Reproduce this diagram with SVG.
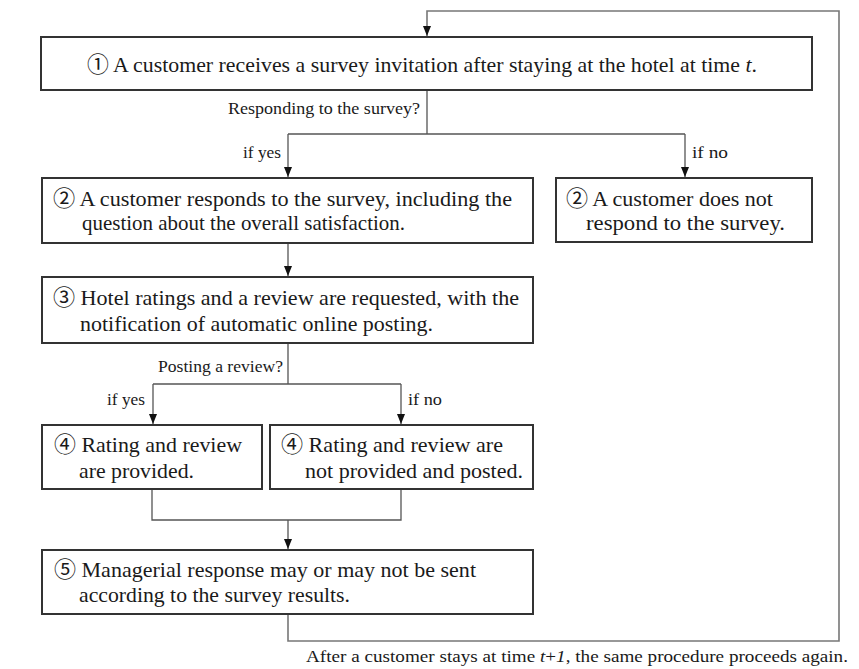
<svg xmlns="http://www.w3.org/2000/svg" width="859" height="669" viewBox="0 0 859 669">
<style>
.box{fill:#fff;stroke:#333;stroke-width:2}
.t{font-family:"Liberation Serif","Noto Sans CJK JP",serif;font-size:22px;fill:#1a1a1a}
.l{font-family:"Liberation Serif","Noto Sans CJK JP",serif;font-size:17px;fill:#1a1a1a}
.c{fill:none;stroke:#555;stroke-width:1.3}
.loop{fill:none;stroke:#777;stroke-width:1.6}
</style>
<defs>
<marker id="ah" markerUnits="userSpaceOnUse" markerWidth="10" markerHeight="10" refX="10" refY="4" orient="auto">
<path d="M0,0 L10,4 L0,8 z" fill="#111"/>
</marker>
</defs>
<rect width="859" height="669" fill="#fff"/>
<g id="connectors">
<path class="c" d="M427,90 V134 M288,134 H685"/>
<path class="c" d="M288,134 V177" marker-end="url(#ah)"/>
<path class="c" d="M685,134 V177" marker-end="url(#ah)"/>
<path class="c" d="M288,243 V276" marker-end="url(#ah)"/>
<path class="c" d="M288,343 V384 M153,384 H401"/>
<path class="c" d="M153,384 V424" marker-end="url(#ah)"/>
<path class="c" d="M401,384 V424" marker-end="url(#ah)"/>
<path class="c" d="M152,489 V520 H401 V489"/>
<path class="c" d="M288,520 V549" marker-end="url(#ah)"/>
<path class="loop" d="M288,614 V641 H839 V11 H427 V36" marker-end="url(#ah)"/>
<text class="l" x="228" y="114" textLength="192" lengthAdjust="spacingAndGlyphs">Responding to the survey?</text>
<text class="l" x="243" y="158" textLength="38" lengthAdjust="spacingAndGlyphs">if yes</text>
<text class="l" x="692" y="158" textLength="36" lengthAdjust="spacingAndGlyphs">if no</text>
<text class="l" x="158" y="372" textLength="125" lengthAdjust="spacingAndGlyphs">Posting a review?</text>
<text class="l" x="107" y="405" textLength="38" lengthAdjust="spacingAndGlyphs">if yes</text>
<text class="l" x="408" y="405" textLength="34" lengthAdjust="spacingAndGlyphs">if no</text>
<text class="l" x="306" y="662" textLength="542" lengthAdjust="spacingAndGlyphs">After a customer stays at time <tspan font-style="italic">t</tspan>+<tspan font-style="italic">1</tspan>, the same procedure proceeds again.</text>
</g>
<g id="node1">
<rect class="box" x="41" y="37" width="771" height="53"/>
<text class="t" x="87" y="72" textLength="670" lengthAdjust="spacingAndGlyphs">① A customer receives a survey invitation after staying at the hotel at time <tspan font-style="italic">t</tspan>.</text>
</g>
<g id="node2a">
<rect class="box" x="42" y="178" width="491" height="65"/>
<text class="t" x="53" y="206" textLength="459" lengthAdjust="spacingAndGlyphs">② A customer responds to the survey, including the</text>
<text class="t" x="82" y="230" textLength="323" lengthAdjust="spacingAndGlyphs">question about the overall satisfaction.</text>
</g>
<g id="node2b">
<rect class="box" x="556" y="178" width="256" height="64"/>
<text class="t" x="566" y="206" textLength="207" lengthAdjust="spacingAndGlyphs">② A customer does not</text>
<text class="t" x="586" y="230" textLength="199" lengthAdjust="spacingAndGlyphs">respond to the survey.</text>
</g>
<g id="node3">
<rect class="box" x="42" y="277" width="491" height="66"/>
<text class="t" x="53" y="305" textLength="466" lengthAdjust="spacingAndGlyphs">③ Hotel ratings and a review are requested, with the</text>
<text class="t" x="80" y="331" textLength="353" lengthAdjust="spacingAndGlyphs">notification of automatic online posting.</text>
</g>
<g id="node4a">
<rect class="box" x="42" y="425" width="220" height="64"/>
<text class="t" x="54" y="452" textLength="188" lengthAdjust="spacingAndGlyphs">④ Rating and review</text>
<text class="t" x="79" y="478" textLength="115" lengthAdjust="spacingAndGlyphs">are provided.</text>
</g>
<g id="node4b">
<rect class="box" x="270" y="425" width="263" height="64"/>
<text class="t" x="281" y="452" textLength="222" lengthAdjust="spacingAndGlyphs">④ Rating and review are</text>
<text class="t" x="305" y="478" textLength="218" lengthAdjust="spacingAndGlyphs">not provided and posted.</text>
</g>
<g id="node5">
<rect class="box" x="42" y="550" width="491" height="64"/>
<text class="t" x="54" y="577" textLength="422" lengthAdjust="spacingAndGlyphs">⑤ Managerial response may or may not be sent</text>
<text class="t" x="79" y="602" textLength="271" lengthAdjust="spacingAndGlyphs">according to the survey results.</text>
</g>
</svg>
